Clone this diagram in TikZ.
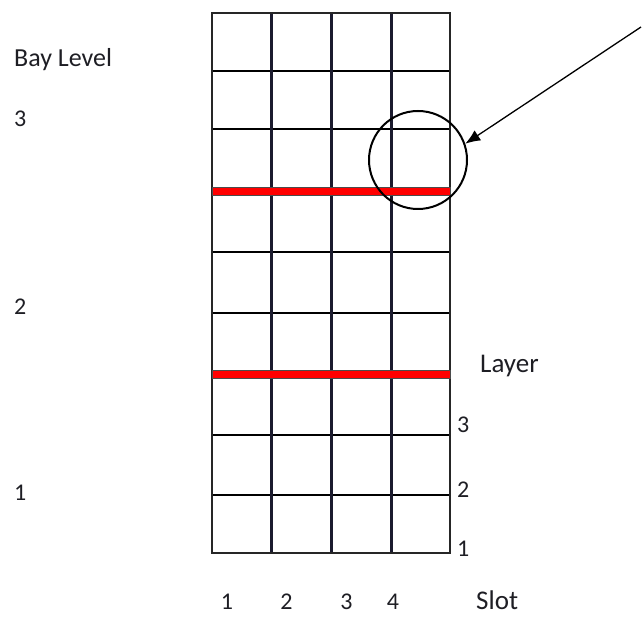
\documentclass[tikz,border=0pt]{standalone}
\usepackage{fontspec}
\setmainfont{Carlito}
\usetikzlibrary{arrows.meta}
\definecolor{txt}{HTML}{1E1E24}
\definecolor{vline}{HTML}{1B1B2E}
\tikzset{
  lbl/.style={inner sep=0pt, text=txt, font=\fontsize{24}{28}\selectfont},
  biglbl/.style={inner sep=0pt, text=txt, font=\fontsize{27}{32}\selectfont},
  hline/.style={line width=2.8pt, black},
  vgrid/.style={line width=3pt, vline},
  border/.style={line width=2pt, black!85},
  redbar/.style={fill=red, draw=black!70, line width=0.5pt},
  marker/.style={circle, draw=black, line width=2pt, minimum size=98pt, inner sep=0pt},
  pointer/.style={line width=1.3pt, -{Latex[length=15pt,width=12pt]}}
}
\begin{document}
\begin{tikzpicture}[x=1pt,y=-1pt]
\useasboundingbox (0,0) rectangle (643,617);
% horizontal interior lines
\foreach \yy in {71,129,252,313,435,495}
  \draw[hline] (212,\yy) -- (450,\yy);
% vertical interior lines
\foreach \xx in {271.5,331.5,391.5}
  \draw[vgrid] (\xx,13) -- (\xx,553);
% outer border
\draw[border] (212,13) rectangle (450,553);
% red bars
\draw[redbar] (212,187.5) rectangle (450,195);
\draw[redbar] (212,370.5) rectangle (450,378);
% circle marker and arrow
\node[marker] (circ) at (418,160) {};
\coordinate (arrowstart) at (641,27);
\draw[pointer] (arrowstart) -- (circ.19);
% left labels
\node[biglbl, font=\fontsize{26}{30}\selectfont, anchor=base west] (baylevel) at (14,67) {Bay Level};
\node[lbl, anchor=base west] (bay3) at (14,127) {3};
\node[lbl, anchor=base west] (bay2) at (14,315) {2};
\node[lbl, anchor=base west] (bay1) at (14,501) {1};
% layer labels
\node[biglbl, anchor=base west] (layer) at (480,373) {Layer};
\node[lbl, anchor=base west] (lay3) at (457,433) {3};
\node[lbl, anchor=base west] (lay2) at (457,497) {2};
\node[lbl, anchor=base west] (lay1) at (457,556) {1};
% slot labels
\node[lbl, anchor=base] (slot1) at (227,609) {1};
\node[lbl, anchor=base] (slot2) at (286.5,609) {2};
\node[lbl, anchor=base] (slot3) at (346.5,609) {3};
\node[lbl, anchor=base] (slot4) at (393,609) {4};
\node[biglbl, anchor=base west] (slot) at (476,609) {Slot};
\end{tikzpicture}
\end{document}
